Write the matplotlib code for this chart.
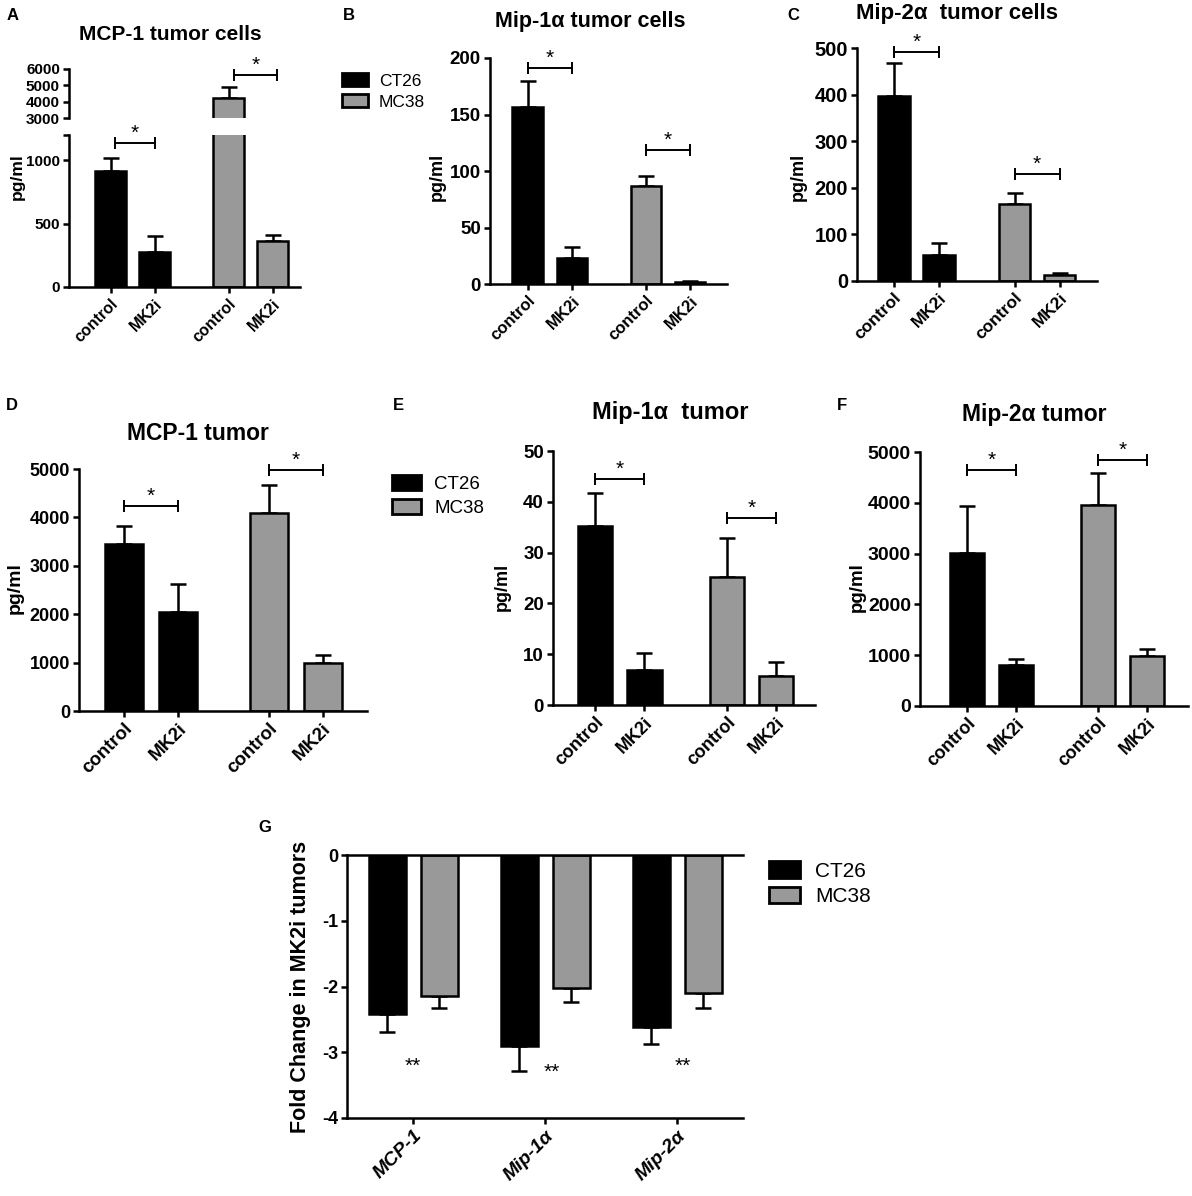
"""MK2 阻害によるケモカイン変化の図 (A-G パネル)"""
import matplotlib
matplotlib.use("Agg")
import matplotlib.pyplot as plt
from matplotlib.patches import Patch

W, H = 1192, 1196

# ---- データ ----
groups = ["control", "MK2i", "control", "MK2i"]
series_names = ["CT26", "MC38"]

mcp1_cells = [916, 277, 4250, 364]
mcp1_cells_sem = [100, 124, 670, 45]
mip1a_cells = [157, 23, 87, 1.5]
mip1a_cells_sem = [23, 10, 9, 0.8]
mip2a_cells = [398, 55, 165, 12]
mip2a_cells_sem = [70, 27, 23, 5]

mcp1_tumor = [3450, 2050, 4100, 990]
mcp1_tumor_sem = [380, 570, 570, 170]
mip1a_tumor = [35.2, 6.9, 25.1, 5.7]
mip1a_tumor_sem = [6.6, 3.3, 7.7, 2.7]
mip2a_tumor = [3010, 800, 3960, 990]
mip2a_tumor_sem = [920, 120, 630, 140]

# 有意差ブラケットの高さ (CT26, MC38)
sig_mcp1_cells = [1134, 5630]
sig_mip1a_cells = [191, 119]
sig_mip2a_cells = [491, 230]
sig_mcp1_tumor = [4236, 4980]
sig_mip1a_tumor = [44.4, 36.9]
sig_mip2a_tumor = [4653, 4849]

fold_labels = ["MCP-1", "Mip-1α", "Mip-2α"]
fold_ct26 = [-2.42, -2.91, -2.61]
fold_ct26_sem = [0.27, 0.37, 0.27]
fold_mc38 = [-2.14, -2.03, -2.10]
fold_mc38_sem = [0.19, 0.20, 0.23]
fold_stars_y = [-3.22, -3.30, -3.22]

# ---- スタイル ----
GRAY = "#999999"
bar_colors = ["black", "black", GRAY, GRAY]
POS = [0, 1, 2.68, 3.68]
LW = 1.8

plt.rcParams["font.family"] = ["Liberation Sans", "DejaVu Sans"]
plt.rcParams["font.weight"] = "bold"
plt.rcParams["axes.unicode_minus"] = False

fig = plt.figure(figsize=(W / 100, H / 100), dpi=100)


def px_axes(left, top, right, bottom):
    """ピクセル座標で axes を配置"""
    return fig.add_axes([left / W, 1 - bottom / H, (right - left) / W, (bottom - top) / H])


def fig_text(x, y, s, **kw):
    fig.text(x / W, 1 - y / H, s, **kw)


def style_axes(ax, fs_tick):
    ax.spines[["top", "right"]].set_visible(False)
    ax.spines[["left", "bottom"]].set_linewidth(LW)
    ax.tick_params(width=LW, length=4.5, labelsize=fs_tick, pad=2)


def draw_bars(ax, means, sems, xlim):
    ax.bar(POS, means, width=0.7, color=bar_colors, edgecolor="black", linewidth=LW, zorder=2)
    ax.errorbar(POS, means, yerr=[[0] * len(sems), sems], fmt="none", ecolor="black",
                elinewidth=LW, capsize=6, capthick=LW, zorder=1)
    ax.set_xlim(*xlim)


def set_groups(ax, fs_x):
    ax.set_xticks(POS)
    ax.set_xticklabels(groups, rotation=45, ha="right", rotation_mode="anchor", fontsize=fs_x)


def bracket(ax, x0, x1, y, fs=15):
    ax.plot([x0, x1], [y, y], color="black", lw=1.4, marker="|", markersize=8, mew=1.4,
            clip_on=False)
    ax.annotate("*", xy=((x0 + x1) / 2, y), xytext=(0, 3), textcoords="offset points",
                ha="center", va="baseline", fontsize=fs, fontweight="normal",
                annotation_clip=False)


def legend_at(x, y, fs, hl, hh, pad):
    handles = [Patch(facecolor=c, edgecolor="black", linewidth=2) for c in ("black", GRAY)]
    fig.legend(handles, series_names, loc="upper left", bbox_to_anchor=(x / W, 1 - y / H),
               frameon=False, borderpad=0, borderaxespad=0,
               prop={"weight": "normal", "size": fs},
               handlelength=hl, handleheight=hh, handletextpad=pad, labelspacing=0.3)


# ---- A: 軸の途中省略あり ----
ax_lo = px_axes(69, 135, 300, 287)
ax_hi = px_axes(69, 69, 300, 118)
for ax in (ax_lo, ax_hi):
    draw_bars(ax, mcp1_cells, mcp1_cells_sem, (-0.95, 4.30))
    style_axes(ax, 11)
ax_lo.set_ylim(0, 1200)
ax_lo.set_yticks([0, 500, 1000])
ax_lo.set_yticks([1200], minor=True)
ax_lo.tick_params(which="minor", width=LW, length=4.5)
set_groups(ax_lo, 11.5)
ax_hi.set_ylim(3000, 6000)
ax_hi.set_yticks([3000, 4000, 5000, 6000])
ax_hi.spines["bottom"].set_visible(False)
ax_hi.set_xticks([])
bracket(ax_lo, POS[0] + 0.1, POS[1], sig_mcp1_cells[0])
bracket(ax_hi, POS[2] + 0.12, POS[3] + 0.1, sig_mcp1_cells[1])

# ---- B-F ----
panels = [
    # (左, 上, 右, 下), データ, 誤差, 有意差, ylim, yticks, xlim, 目盛り文字, x文字
    ((490, 58, 727, 284), mip1a_cells, mip1a_cells_sem, sig_mip1a_cells,
     (0, 200), range(0, 201, 50), (-0.86, 4.52), 13.5, 12),
    ((857, 48, 1097, 281), mip2a_cells, mip2a_cells_sem, sig_mip2a_cells,
     (0, 500), range(0, 501, 100), (-0.82, 4.51), 14.5, 12.5),
    ((79, 469, 367, 711), mcp1_tumor, mcp1_tumor_sem, sig_mcp1_tumor,
     (0, 5000), range(0, 5001, 1000), (-0.83, 4.5), 13, 13.5),
    ((553, 451, 815, 705), mip1a_tumor, mip1a_tumor_sem, sig_mip1a_tumor,
     (0, 50), range(0, 51, 10), (-0.86, 4.47), 13.5, 13),
    ((920, 452, 1188, 706), mip2a_tumor, mip2a_tumor_sem, sig_mip2a_tumor,
     (0, 5000), range(0, 5001, 1000), (-0.96, 4.51), 14, 13),
]
for box, vals, sems, sig, ylim, yticks, xlim, fs_tick, fs_x in panels:
    ax = px_axes(*box)
    draw_bars(ax, vals, sems, xlim)
    style_axes(ax, fs_tick)
    ax.set_ylim(*ylim)
    ax.set_yticks(list(yticks))
    set_groups(ax, fs_x)
    bracket(ax, POS[0], POS[1], sig[0])
    bracket(ax, POS[2], POS[3], sig[1])

# ---- G: fold change ----
axg = px_axes(347, 855, 743, 1118)
gx = list(range(len(fold_labels)))
axg.bar([x - 0.195 for x in gx], fold_ct26, width=0.28, color="black", edgecolor="black",
        linewidth=LW, zorder=2)
axg.bar([x + 0.2 for x in gx], fold_mc38, width=0.28, color=GRAY, edgecolor="black",
        linewidth=LW, zorder=2)
axg.errorbar([x - 0.195 for x in gx], fold_ct26, yerr=[fold_ct26_sem, [0] * 3], fmt="none",
             ecolor="black", elinewidth=LW, capsize=6, capthick=LW, zorder=1)
axg.errorbar([x + 0.2 for x in gx], fold_mc38, yerr=[fold_mc38_sem, [0] * 3], fmt="none",
             ecolor="black", elinewidth=LW, capsize=6, capthick=LW, zorder=1)
axg.set_xlim(-0.5, 2.5)
axg.set_ylim(-4, 0)
axg.set_yticks([0, -1, -2, -3, -4])
axg.spines["right"].set_visible(False)
axg.spines[["left", "bottom", "top"]].set_linewidth(LW)
axg.tick_params(width=LW, length=4.5, labelsize=13, pad=2)
axg.set_xticks(gx)
axg.set_xticklabels(fold_labels, rotation=45, ha="right", rotation_mode="anchor",
                    fontsize=14, fontstyle="italic")
for x, y in zip([0, 1.05, 2.04], fold_stars_y):
    axg.text(x, y, "**", ha="center", va="center", fontsize=15, fontweight="normal")

# ---- タイトル・ラベル ----
fig_text(170, 35, "MCP-1 tumor cells", ha="center", va="center", fontsize=15)
fig_text(590, 22, "Mip-1α tumor cells", ha="center", va="center", fontsize=15.5)
fig_text(957, 14, "Mip-2α  tumor cells", ha="center", va="center", fontsize=16)
fig_text(198, 433, "MCP-1 tumor", ha="center", va="center", fontsize=16.5)
fig_text(670, 413, "Mip-1α  tumor", ha="center", va="center", fontsize=17)
fig_text(1034, 415, "Mip-2α tumor", ha="center", va="center", fontsize=16.5)

for letter, x, y in [("A", 13, 15), ("B", 349, 15), ("C", 793, 15), ("D", 12, 405),
                     ("E", 398, 405), ("F", 842, 405), ("G", 265, 828)]:
    fig_text(x, y, letter, ha="center", va="center", fontsize=12)

for x, y, fs in [(17, 177, 12.5), (437, 177, 13), (798, 177, 13), (15, 588, 14),
                 (502, 587, 13), (857, 587, 13.5)]:
    fig_text(x, y, "pg/ml", ha="center", va="center", rotation=90, fontsize=fs)
fig_text(300, 987, "Fold Change in MK2i tumors", ha="center", va="center", rotation=90,
         fontsize=15.5)

legend_at(342, 73, 12.5, 1.5, 0.8, 0.63)
legend_at(392, 475, 13.5, 1.55, 0.85, 0.69)
legend_at(769, 861, 15, 1.5, 0.85, 0.72)

fig.savefig("out.png", dpi=100)
